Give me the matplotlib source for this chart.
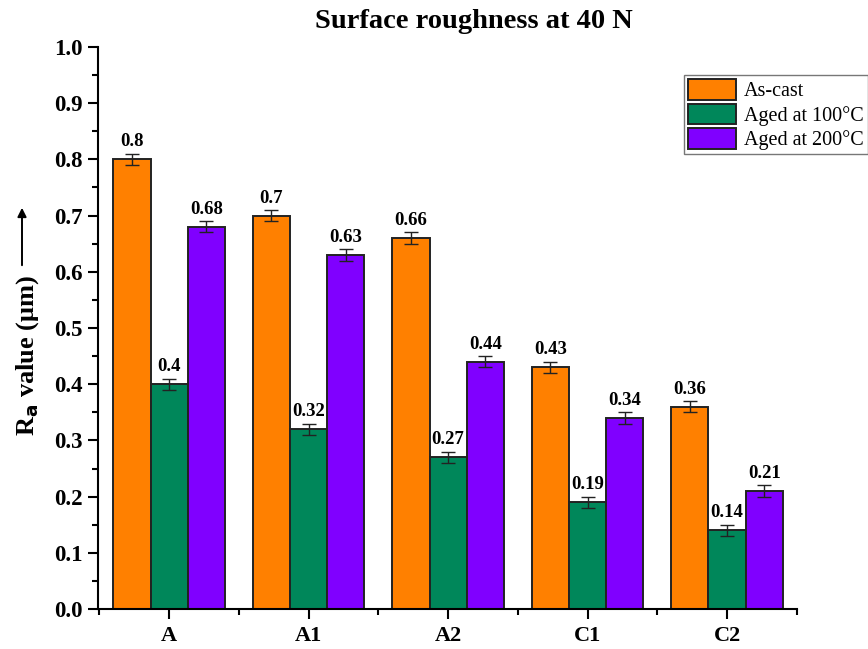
import numpy as np
import matplotlib.pyplot as plt
from matplotlib.ticker import MultipleLocator
from matplotlib.patches import FancyArrowPatch

plt.rcParams['font.family'] = ['Liberation Serif', 'DejaVu Serif']

# Ra values for each alloy and condition
samples = ['A', 'A1', 'A2', 'C1', 'C2']
as_cast = [0.8, 0.7, 0.66, 0.43, 0.36]
aged_100 = [0.4, 0.32, 0.27, 0.19, 0.14]
aged_200 = [0.68, 0.63, 0.44, 0.34, 0.21]
err = 0.01
series_names = ['As-cast', 'Aged at 100°C', 'Aged at 200°C']
colors = ['#FF8000', '#00875A', '#8000FF']

fig = plt.figure(figsize=(8.68, 6.49), dpi=100)
ax = fig.add_axes([0.113, 0.0616, 0.805, 0.866])

x = np.arange(len(samples))
w = 0.8 / 3
for i, (vals, name, c) in enumerate(zip([as_cast, aged_100, aged_200], series_names, colors)):
    pos = x + (i - 1) * w
    ax.bar(pos, vals, width=w, color=c, edgecolor='#222222', linewidth=1.4, label=name)
    ax.errorbar(pos, vals, yerr=err, fmt='none', ecolor='#222222', elinewidth=1, capsize=5, capthick=1)
    for px, v in zip(pos, vals):
        ax.text(px, v + err + 0.006, '{:g}'.format(v), ha='center', va='bottom',
                fontsize=13.5, fontweight='bold')

ax.set_xlim(-0.51, 4.5)
ax.set_ylim(0, 1.0)
ax.set_xticks(x)
ax.set_xticklabels(samples, fontsize=16, fontweight='bold')
ax.xaxis.set_minor_locator(MultipleLocator(1, offset=0.5))
ax.yaxis.set_major_locator(MultipleLocator(0.1))
ax.yaxis.set_minor_locator(MultipleLocator(0.05))
ax.yaxis.set_major_formatter(plt.FuncFormatter(lambda v, p: '{:.1f}'.format(v)))
for lab in ax.get_yticklabels():
    lab.set_fontweight('bold')
    lab.set_fontsize(16.5)
ax.tick_params(axis='both', which='major', direction='out', length=7, width=1.5)
ax.tick_params(axis='both', which='minor', direction='out', length=4, width=1.5)
ax.tick_params(axis='x', pad=5)
ax.tick_params(axis='y', pad=4)
ax.spines['top'].set_visible(False)
ax.spines['right'].set_visible(False)
ax.spines['left'].set_linewidth(1.5)
ax.spines['bottom'].set_linewidth(1.5)

ax.set_ylabel(r'R$_\mathbf{a}$ value (μm)', fontsize=19, fontweight='bold')
ax.yaxis.set_label_coords(-0.082, 0.452)
fig.text(0.546, 0.967, 'Surface roughness at 40 N', ha='center', va='center',
         fontsize=20.5, fontweight='bold')
# arrow above the y label
fig.patches.append(FancyArrowPatch(
    (22 / 868, 1 - 268 / 649), (22 / 868, 1 - 205 / 649), transform=fig.transFigure,
    arrowstyle='-|>', mutation_scale=13, color='black', linewidth=1.4))

leg = ax.legend(loc='upper left', bbox_to_anchor=(0.838, 0.950), fontsize=14.5,
                frameon=True, fancybox=False, edgecolor='#555555', borderaxespad=0,
                handlelength=2.4, handleheight=1.2, handletextpad=0.4,
                labelspacing=0.12, borderpad=0.2)
leg.get_frame().set_linewidth(1)

fig.savefig('out.png', dpi=100)
